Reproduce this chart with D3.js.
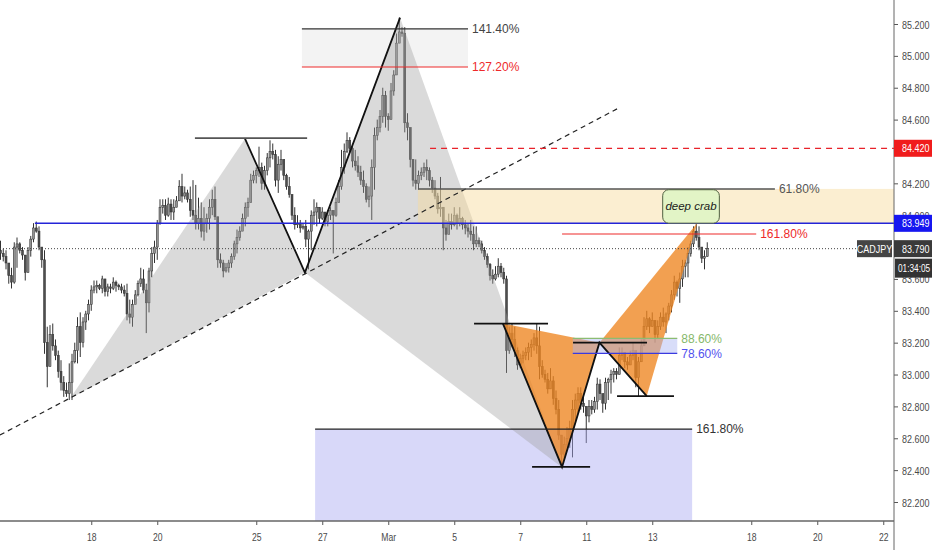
<!DOCTYPE html>
<html lang="en">
<head>
<meta charset="UTF-8">
<script src="https://d3js.org/d3.v7.min.js"></script>
<title>CADJPY 2H</title>
<style>
  body { margin: 0; background: #fff; }
  text { font-family: "Liberation Sans", Arial, sans-serif; }
</style>
</head>
<body>
<svg id="chart"></svg>
<script>
// 2H candles, CADJPY, Feb 13 - Mar 14 (open of bar 0, then open = previous close)
const firstOpen = 83.78;
const highs = [
  83.84,83.79,83.78,83.70,83.67,83.83,83.86,83.83,83.80,83.74,83.80,83.87,83.95,83.96,83.93,83.80,83.78,83.30,83.31,83.32,
  83.22,83.15,83.09,82.99,82.95,83.07,83.13,83.20,83.36,83.39,83.36,83.40,83.47,83.56,83.59,83.59,83.57,83.62,83.59,83.57,
  83.57,83.61,83.59,83.57,83.57,83.56,83.57,83.47,83.47,83.53,83.59,83.67,83.66,83.57,83.67,83.80,83.84,83.97,84.10,84.10,
  84.10,84.11,84.10,84.10,84.12,84.22,84.26,84.18,84.16,84.18,84.22,84.19,84.11,84.08,84.05,84.01,84.10,84.16,84.18,83.97,
  83.76,83.72,83.70,83.72,83.76,83.84,83.91,83.93,84.01,84.08,84.11,84.26,84.28,84.30,84.43,84.33,84.31,84.39,84.47,84.45,
  84.41,84.37,84.41,84.35,84.26,84.24,84.13,84.05,84.00,83.97,83.95,83.97,83.91,84.03,84.10,84.08,84.03,84.05,84.01,84.03,
  84.05,84.03,84.11,84.22,84.41,84.45,84.52,84.49,84.43,84.41,84.37,84.31,84.28,84.20,84.18,84.35,84.55,84.60,84.66,84.80,
  84.78,84.64,84.83,84.91,85.14,85.24,85.18,85.18,84.64,84.55,84.35,84.35,84.28,84.30,84.33,84.35,84.30,84.24,84.22,84.14,
  84.24,84.02,83.97,84.01,84.01,84.05,84.01,84.05,83.99,83.97,83.95,83.97,83.93,83.93,83.86,83.84,83.80,83.76,83.70,83.66,
  83.68,83.73,83.70,83.67,83.62,83.30,83.32,83.30,83.17,83.13,83.15,83.17,83.20,83.22,83.26,83.32,83.30,83.09,83.03,83.01,
  83.04,82.99,82.90,82.84,82.62,82.61,82.67,82.71,82.84,82.88,82.92,82.92,82.86,82.80,82.84,82.84,82.86,82.98,82.97,82.88,
  82.98,82.98,83.03,83.04,83.04,83.17,83.17,83.13,83.11,83.15,83.20,83.15,83.11,83.22,83.36,83.40,83.36,83.39,83.30,83.34,
  83.39,83.42,83.39,83.45,83.53,83.62,83.59,83.64,83.72,83.72,83.80,83.84,83.93,83.96,83.93,83.80,83.78,83.83
];
const lows = [
  83.72,83.71,83.66,83.57,83.54,83.57,83.67,83.76,83.72,83.59,83.65,83.74,83.83,83.89,83.78,83.67,83.13,82.92,83.09,83.15,
  83.09,82.98,82.90,82.86,82.86,82.84,82.84,83.07,83.07,83.11,83.17,83.28,83.34,83.40,83.51,83.51,83.53,83.51,83.49,83.49,
  83.51,83.53,83.52,83.53,83.51,83.49,83.34,83.32,83.30,83.44,83.49,83.55,83.51,83.26,83.39,83.61,83.70,83.72,83.94,84.01,
  83.97,83.99,83.97,83.97,84.05,84.10,84.08,84.10,84.08,83.99,83.97,83.91,83.91,83.86,83.84,83.89,83.91,84.00,83.97,83.67,
  83.67,83.61,83.64,83.64,83.67,83.72,83.76,83.84,83.91,83.93,83.99,84.08,84.20,84.20,84.24,84.16,84.16,84.25,84.30,84.35,
  84.18,84.14,84.28,84.22,84.16,84.11,83.97,83.91,83.92,83.89,83.91,83.80,83.66,83.78,83.94,83.93,83.95,83.97,83.93,83.93,
  83.97,83.76,83.99,84.08,84.16,84.26,84.39,84.39,84.30,84.28,84.24,84.19,84.14,84.08,84.05,83.97,84.16,84.47,84.52,84.58,
  84.55,84.53,84.66,84.75,84.89,85.10,85.12,84.52,84.47,84.30,84.18,84.16,84.16,84.22,84.24,84.22,84.18,84.14,84.10,84.01,
  83.99,83.78,83.84,83.89,83.91,83.93,83.91,83.93,83.91,83.88,83.86,83.84,83.78,83.80,83.80,83.76,83.72,83.67,83.59,83.57,
  83.59,83.61,83.61,83.57,83.01,83.13,83.17,83.11,83.03,83.04,83.07,83.09,83.09,83.11,83.15,83.13,82.97,82.98,82.95,82.88,
  82.92,82.81,82.75,82.59,82.42,82.48,82.54,82.54,82.48,82.71,82.76,82.78,82.76,82.57,82.70,82.75,82.76,82.78,82.84,82.76,
  82.78,82.84,82.88,82.95,82.97,83.01,83.09,83.04,83.03,83.07,83.09,82.92,82.86,83.09,83.22,83.28,83.26,83.30,83.20,83.23,
  83.28,83.30,83.26,83.34,83.39,83.47,83.49,83.45,83.55,83.61,83.61,83.74,83.80,83.84,83.78,83.70,83.66,83.76
];
const closes = [
  83.76,83.74,83.70,83.62,83.58,83.80,83.82,83.78,83.75,83.64,83.78,83.85,83.92,83.90,83.80,83.72,83.20,83.05,83.25,83.18,
  83.12,83.02,82.95,82.90,82.88,82.95,83.08,83.15,83.30,83.20,83.33,83.38,83.44,83.53,83.55,83.56,83.54,83.60,83.52,83.55,
  83.54,83.58,83.56,83.55,83.53,83.51,83.38,83.36,83.44,83.50,83.57,83.60,83.53,83.45,83.65,83.76,83.80,83.95,84.05,84.06,
  84.00,84.07,84.02,84.05,84.09,84.18,84.12,84.14,84.10,84.03,84.00,83.95,83.98,83.90,83.95,83.98,84.05,84.10,83.99,83.72,
  83.70,83.65,83.67,83.70,83.74,83.82,83.86,83.90,83.98,84.05,84.08,84.22,84.25,84.28,84.30,84.20,84.28,84.36,84.40,84.38,
  84.22,84.32,84.35,84.25,84.18,84.13,84.00,83.94,83.95,83.92,83.93,83.85,83.90,84.00,84.02,84.05,83.98,84.02,83.96,84.00,
  84.03,84.00,84.08,84.18,84.30,84.40,84.47,84.42,84.34,84.31,84.27,84.22,84.18,84.10,84.12,84.30,84.50,84.55,84.62,84.75,
  84.62,84.60,84.78,84.88,85.08,85.15,85.14,84.58,84.55,84.35,84.22,84.20,84.25,84.27,84.30,84.28,84.22,84.17,84.12,84.04,
  84.05,83.92,83.88,83.96,83.94,84.00,83.95,83.98,83.94,83.92,83.90,83.88,83.82,83.84,83.82,83.78,83.74,83.69,83.62,83.60,
  83.63,83.68,83.64,83.60,83.15,83.26,83.22,83.15,83.06,83.10,83.12,83.14,83.17,83.19,83.23,83.18,83.05,83.00,82.97,82.91,
  82.96,82.85,82.78,82.62,82.50,82.56,82.60,82.66,82.78,82.84,82.88,82.82,82.80,82.74,82.80,82.78,82.83,82.94,82.88,82.82,
  82.95,82.97,83.00,83.02,83.00,83.12,83.14,83.08,83.06,83.12,83.15,82.98,83.08,83.18,83.30,83.35,83.30,83.34,83.25,83.30,
  83.36,83.33,83.38,83.43,83.50,83.58,83.54,83.60,83.68,83.70,83.76,83.82,83.90,83.86,83.80,83.73,83.74,83.79
];

// time axis: bar index of each day start, and its label
const tickBars = [33, 57, 93, 117, 141, 165, 189, 213, 237, 273, 297, 321];
const tickLabels = ["18", "20", "25", "27", "Mar", "5", "7", "11", "13", "18", "20", "22"];
// price ticks left visible by the price tags
const priceTicks = [85.2, 85.0, 84.8, 84.6, 84.2, 84.0, 83.6, 83.4, 83.2, 83.0, 82.8, 82.6, 82.4, 82.2];

// harmonic patterns (X, A, B, C, D) as [bar, price]
const greyBars = [25.3, 88.9, 110.7, 145.3, 204];
const greyPrices = [82.85, 84.48, 83.64, 85.24, 82.42];
const orangeBars = [182.7, 204.2, 217.8, 235, 253.3];
const orangePrices = [83.32, 82.42, 83.20, 82.865, 83.95];

// short horizontal marks at pattern pivots
const pivotPrices = [84.484, 83.32, 82.42, 83.20, 82.865];
const pivotFrom = [70.7, 172.2, 193.3, 208.2, 224.2];
const pivotTo = [111.5, 199.1, 214.4, 235.1, 244.9];

// fibonacci levels
const fibLabels = ["141.40%", "127.20%", "61.80%", "161.80%", "161.80%", "88.60%", "78.60%"];
const fibPrices = [85.169, 84.93, 84.165, 83.882, 82.658, 83.227, 83.133];
const fibFrom = [109.6, 109.6, 151.8, 204.2, 114.4, 208.1, 208.1];
const fibTo = [170, 170, 281.6, 274.8, 251.5, 246.1, 246.1];

// zones [fromBar, toBar, topPrice, bottomPrice]
const zoneTop = [109.6, 170, 85.169, 84.93];
const zonePrz = [151.8, 330, 84.165, 83.949];
const zoneLow = [114.4, 251.5, 82.658, 81.9];
const zoneRetr = [208.1, 246.1, 83.227, 83.133];

// trend line and horizontal lines
const trendBars = [-0.2, 224.5];
const trendPrices = [82.62, 84.67];
const resistancePrice = 84.42, resistanceFrom = 156.2;
const supportPrice = 83.949, supportFrom = 12.5;
const lastPrice = 83.79;
const calloutBars = [240.8, 261.4];
const calloutPrices = [84.16, 83.95];
const calloutText = "deep crab";
const symbol = "CADJPY";
const countdown = "01:34:05";

const width = 932, height = 550;
const plotRight = 894, plotBottom = 521;

const x = d3.scaleLinear().domain([0, 257]).range([0.5, 707.25]);
const y = d3.scaleLinear().domain([82.2, 85.2]).range([502, 24]);

const svg = d3.select("#chart")
  .attr("width", width)
  .attr("height", height)
  .attr("viewBox", [0, 0, width, height]);

svg.append("defs").append("clipPath").attr("id", "plotclip")
  .append("rect").attr("x", 0).attr("y", 0).attr("width", plotRight).attr("height", plotBottom);

const plot = svg.append("g").attr("clip-path", "url(#plotclip)");

// candles
const bars = closes.map((c, i) => ({ i, o: i ? closes[i - 1] : firstOpen, h: highs[i], l: lows[i], c }));
const cg = plot.append("g");
cg.selectAll("line").data(bars).join("line")
  .attr("x1", d => x(d.i)).attr("x2", d => x(d.i))
  .attr("y1", d => y(Math.max(d.h, d.o, d.c)))
  .attr("y2", d => y(Math.min(d.l, d.o, d.c)))
  .attr("stroke", "#333").attr("stroke-width", 1);
cg.selectAll("rect").data(bars).join("rect")
  .attr("x", d => x(d.i) - 1)
  .attr("width", 2)
  .attr("y", d => y(Math.max(d.o, d.c)))
  .attr("height", d => Math.max(1, Math.abs(y(d.o) - y(d.c))))
  .attr("fill", d => d.c >= d.o ? "#929292" : "#4e4e4e")
  .attr("stroke", "#2e2e2e").attr("stroke-width", 0.5);

// zones
function zone(z, fill, op) {
  plot.append("rect")
    .attr("x", x(z[0])).attr("width", x(z[1]) - x(z[0]))
    .attr("y", y(z[2])).attr("height", y(z[3]) - y(z[2]))
    .attr("fill", fill).attr("fill-opacity", op);
}
zone(zoneTop, "#bdbdbd", 0.18);
zone(zoneLow, "#a8a8f2", 0.45);

// pattern triangles
const poly = d3.line().x(d => x(d[0])).y(d => y(d[1]));
const greyPts = greyBars.map((b, i) => [b, greyPrices[i]]);
const orangePts = orangeBars.map((b, i) => [b, orangePrices[i]]);
[[0, 1, 2], [2, 3, 4]].forEach(t => {
  plot.append("path").attr("d", poly(t.map(k => greyPts[k])) + "Z")
    .attr("fill", "#9e9e9e").attr("fill-opacity", 0.38);
});
zone(zonePrz, "#f6d998", 0.45);
[[0, 1, 2], [2, 3, 4]].forEach(t => {
  plot.append("path").attr("d", poly(t.map(k => orangePts[k])) + "Z")
    .attr("fill", "#ee8520").attr("fill-opacity", 0.78);
});
zone(zoneRetr, "#a9b4f2", 0.45);

// pattern legs
plot.append("path").attr("d", poly([greyPts[1], greyPts[2], greyPts[3]]))
  .attr("fill", "none").attr("stroke", "#111").attr("stroke-width", 1.8);
plot.append("path").attr("d", poly([orangePts[0], orangePts[1], orangePts[2], orangePts[3]]))
  .attr("fill", "none").attr("stroke", "#111").attr("stroke-width", 1.8);

pivotPrices.forEach((p, i) => {
  plot.append("line")
    .attr("x1", x(pivotFrom[i])).attr("x2", x(pivotTo[i]))
    .attr("y1", y(p)).attr("y2", y(p))
    .attr("stroke", i === 0 ? "#555" : "#111").attr("stroke-width", 1.8);
});

// trend line
plot.append("line")
  .attr("x1", x(trendBars[0])).attr("y1", y(trendPrices[0]))
  .attr("x2", x(trendBars[1])).attr("y2", y(trendPrices[1]))
  .attr("stroke", "#222").attr("stroke-width", 1.2).attr("stroke-dasharray", "5,4");

// horizontal lines
plot.append("line")
  .attr("x1", x(resistanceFrom)).attr("x2", plotRight)
  .attr("y1", y(resistancePrice)).attr("y2", y(resistancePrice))
  .attr("stroke", "#e8222a").attr("stroke-width", 1.2).attr("stroke-dasharray", "6,5");
plot.append("line")
  .attr("x1", x(supportFrom)).attr("x2", plotRight)
  .attr("y1", y(supportPrice)).attr("y2", y(supportPrice))
  .attr("stroke", "#2424d8").attr("stroke-width", 1.5);
plot.append("line")
  .attr("x1", 0).attr("x2", plotRight)
  .attr("y1", y(lastPrice)).attr("y2", y(lastPrice))
  .attr("stroke", "#444").attr("stroke-width", 1).attr("stroke-dasharray", "1,2");

// fib lines and labels
const fibColors = ["#333", "#ee2a2a", "#555", "#ee2a2a", "#222", "#8cbc72", "#3a3ae0"];
const fibText = ["#444", "#ee2a2a", "#555", "#ee2a2a", "#333", "#86b86a", "#5252ee"];
fibPrices.forEach((p, i) => {
  plot.append("line")
    .attr("x1", x(fibFrom[i])).attr("x2", x(fibTo[i]))
    .attr("y1", y(p)).attr("y2", y(p))
    .attr("stroke", fibColors[i]).attr("stroke-width", i === 2 ? 1.5 : 1.2);
  plot.append("text")
    .attr("x", x(fibTo[i]) + 4).attr("y", y(p))
    .attr("dy", "0.36em")
    .attr("font-size", 12)
    .attr("fill", fibText[i])
    .text(fibLabels[i]);
});

// callout
plot.append("rect")
  .attr("x", x(calloutBars[0])).attr("width", x(calloutBars[1]) - x(calloutBars[0]))
  .attr("y", y(calloutPrices[0])).attr("height", y(calloutPrices[1]) - y(calloutPrices[0]))
  .attr("rx", 6)
  .attr("fill", "#e2f4c6").attr("stroke", "#4f5f40").attr("stroke-width", 1);
plot.append("text")
  .attr("x", (x(calloutBars[0]) + x(calloutBars[1])) / 2)
  .attr("y", (y(calloutPrices[0]) + y(calloutPrices[1])) / 2)
  .attr("dy", "0.35em").attr("text-anchor", "middle")
  .attr("font-size", 11.5).attr("font-style", "italic").attr("fill", "#1a1a1a")
  .text(calloutText);

// axes
const axisFont = "Liberation Sans, Arial, sans-serif";
const yAxis = g => g
  .attr("transform", `translate(${plotRight},0)`)
  .call(d3.axisRight(y).tickValues(priceTicks).tickFormat(d3.format(".3f")).tickSize(4))
  .call(g => g.select(".domain").remove())
  .call(g => g.selectAll(".tick line").attr("stroke", "#555"))
  .call(g => g.selectAll(".tick text")
    .attr("x", 0).attr("dy", "0.35em")
    .attr("transform", "translate(8,0) scale(0.78,1)")
    .attr("fill", "#4a4a4a").attr("font-size", 11.5).attr("font-family", axisFont));
svg.append("g").call(yAxis);

const xAxis = g => g
  .attr("transform", `translate(0,${plotBottom})`)
  .call(d3.axisBottom(x).tickValues(tickBars).tickFormat((d, i) => tickLabels[i]).tickSize(4))
  .call(g => g.select(".domain").remove())
  .call(g => g.selectAll(".tick line").attr("stroke", "#555"))
  .call(g => g.selectAll(".tick text")
    .attr("y", 20).attr("dy", "0")
    .attr("transform", "scale(0.75,1)")
    .attr("fill", "#4a4a4a").attr("font-size", 11.5).attr("font-family", axisFont));
svg.append("g").call(xAxis);

svg.append("line").attr("x1", 0).attr("x2", plotRight).attr("y1", plotBottom).attr("y2", plotBottom)
  .attr("stroke", "#666").attr("stroke-width", 1.5);
svg.append("line").attr("x1", plotRight).attr("x2", plotRight).attr("y1", 0).attr("y2", height)
  .attr("stroke", "#666").attr("stroke-width", 1);

// price tags on the axis
const tagPrices = [resistancePrice, supportPrice, lastPrice];
const tagColors = ["#f01c1c", "#1616f0", "#3a3a3a"];
tagPrices.forEach((p, i) => {
  svg.append("rect").attr("x", plotRight).attr("y", y(p) - 8.5).attr("width", width - plotRight).attr("height", 17)
    .attr("fill", tagColors[i]);
  svg.append("text").attr("transform", `translate(${plotRight + 8},${y(p)}) scale(0.78,1)`)
    .attr("dy", "0.35em").attr("fill", "#fff").attr("font-size", 11.5).attr("font-family", axisFont)
    .text(d3.format(".3f")(p));
});
svg.append("rect").attr("x", 857).attr("y", y(lastPrice) - 8.5).attr("width", 35).attr("height", 17)
  .attr("fill", "#454545");
svg.append("text").attr("transform", `translate(874.5,${y(lastPrice)}) scale(0.78,1)`)
  .attr("dy", "0.35em").attr("text-anchor", "middle").attr("fill", "#fff")
  .attr("font-size", 11.5).attr("font-family", axisFont).text(symbol);
svg.append("rect").attr("x", plotRight + 1).attr("y", y(lastPrice) + 10).attr("width", width - plotRight - 1).attr("height", 19)
  .attr("fill", "#333");
svg.append("text").attr("transform", `translate(${plotRight + 4},${y(lastPrice) + 19.5}) scale(0.72,1)`)
  .attr("dy", "0.35em").attr("fill", "#fff").attr("font-size", 11.5).attr("font-family", axisFont)
  .text(countdown);
</script>
</body>
</html>
